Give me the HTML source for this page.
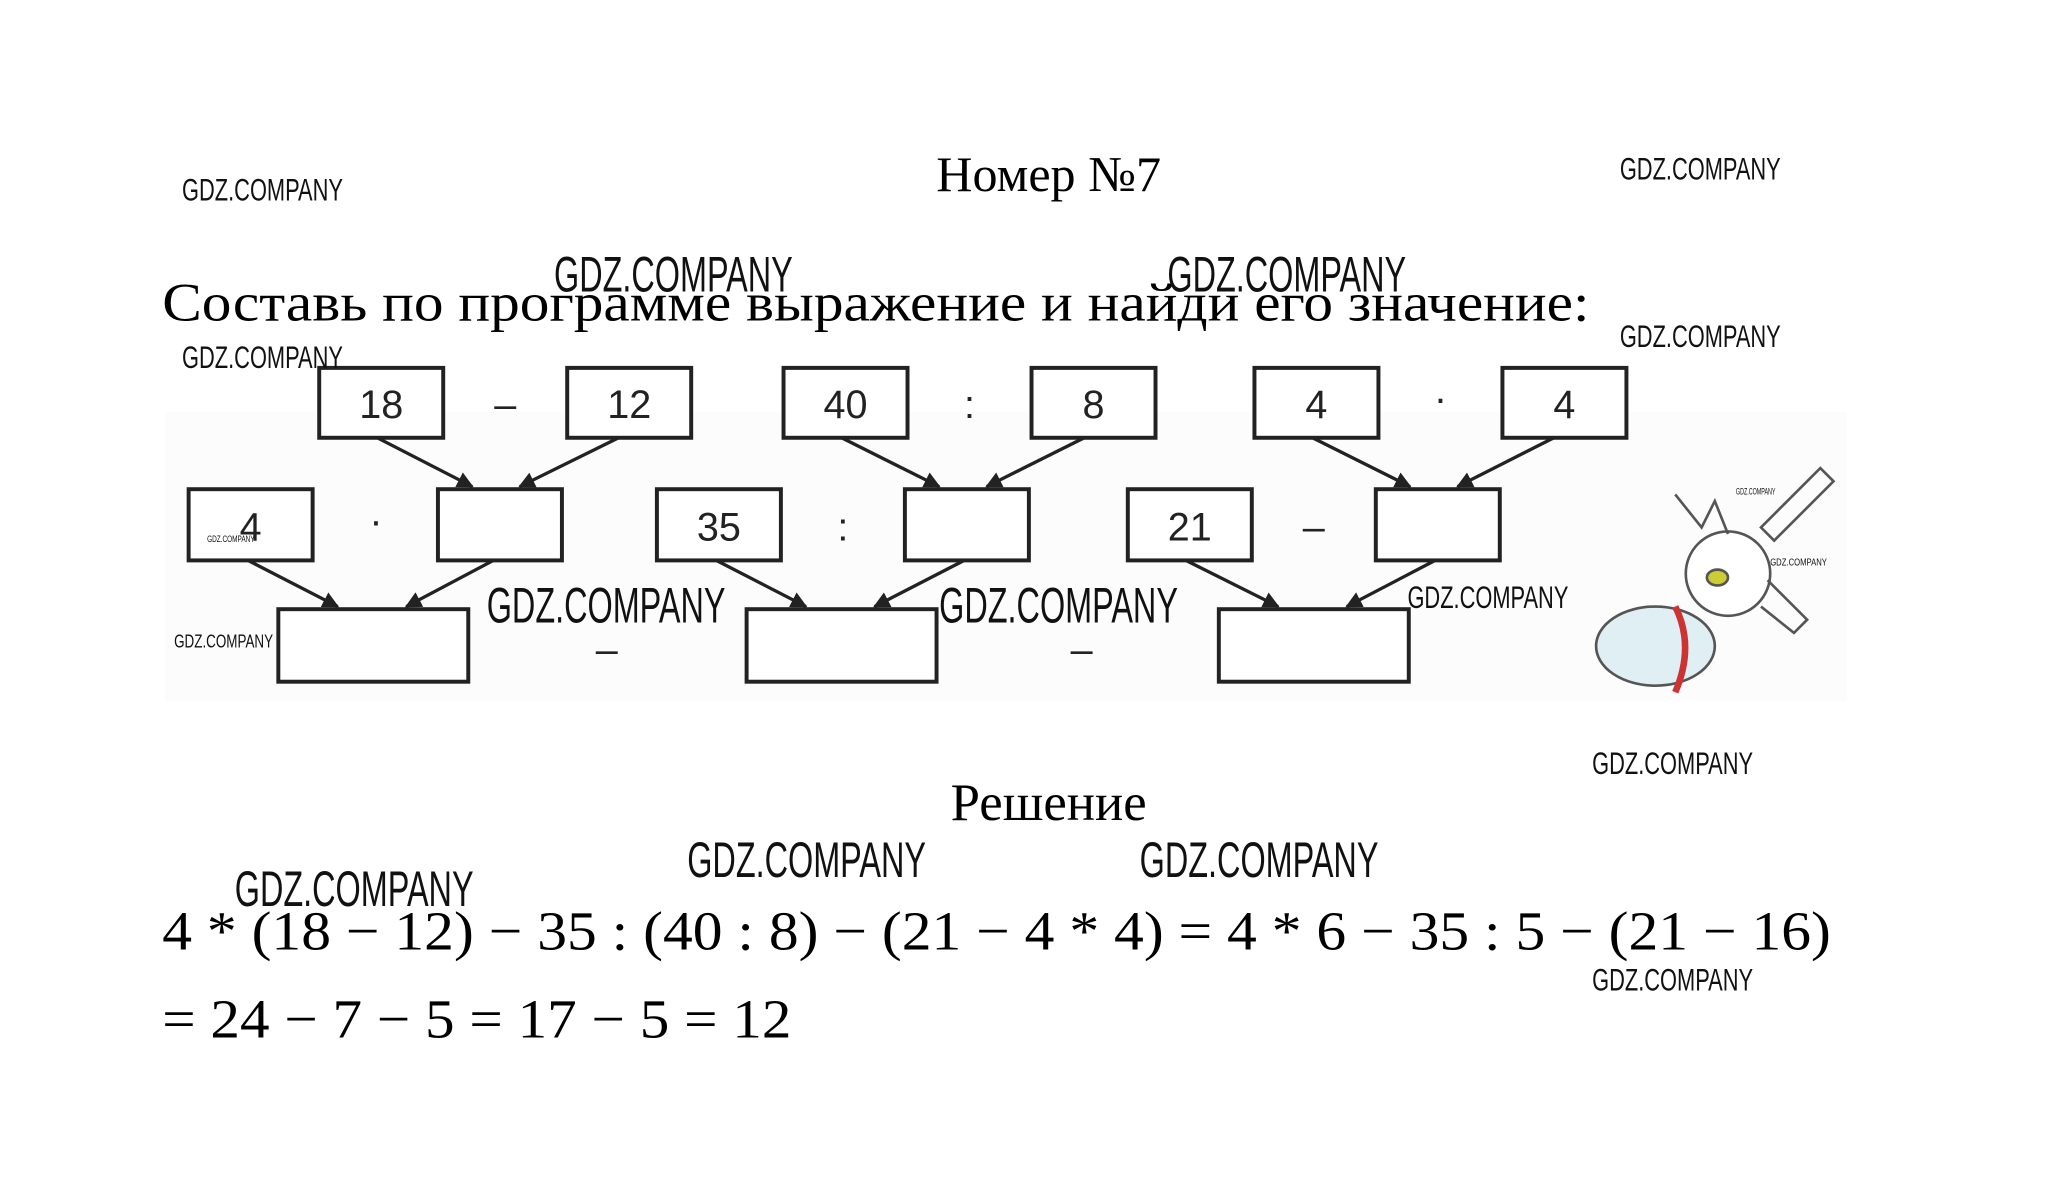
<!DOCTYPE html>
<html><head><meta charset="utf-8"><style>
html,body{margin:0;padding:0;background:#fff;}
svg{display:block}
.s{font-family:"Liberation Serif",serif;fill:#000}
.n{font-family:"Liberation Sans",sans-serif;fill:#222;font-size:30px}
.w{font-family:"Liberation Sans",sans-serif;fill:#111}
.b{fill:#fff;stroke:#222;stroke-width:3}
.a{stroke:#222;stroke-width:2.5}
</style></head><body>
<svg width="2067" height="1192" viewBox="0 0 1567 904" preserveAspectRatio="none" xmlns="http://www.w3.org/2000/svg">
<defs><marker id="m" viewBox="0 0 10 10" refX="9" refY="5" markerWidth="5" markerHeight="5" orient="auto"><path d="M0,0L10,5L0,10z" fill="#222"/></marker></defs>
<rect x="125" y="312" width="1275" height="220" fill="#fcfcfc"/>
<text class="s" x="795" y="145" font-size="38" text-anchor="middle">Номер №7</text>
<text class="s" x="123" y="243" font-size="41" textLength="1082" lengthAdjust="spacingAndGlyphs">Составь по программе выражение и найди его значение:</text>
<g class="b">
<rect x="242" y="279" width="94" height="53"/><rect x="430" y="279" width="94" height="53"/>
<rect x="594" y="279" width="94" height="53"/><rect x="782" y="279" width="94" height="53"/>
<rect x="951" y="279" width="94" height="53"/><rect x="1139" y="279" width="94" height="53"/>
<rect x="143" y="371" width="94" height="54"/><rect x="332" y="371" width="94" height="54"/>
<rect x="498" y="371" width="94" height="54"/><rect x="686" y="371" width="94" height="54"/>
<rect x="855" y="371" width="94" height="54"/><rect x="1043" y="371" width="94" height="54"/>
<rect x="211" y="462" width="144" height="55"/><rect x="566" y="462" width="144" height="55"/>
<rect x="924" y="462" width="144" height="55"/>
</g>
<g class="n" text-anchor="middle">
<text x="289" y="317">18</text><text x="477" y="317">12</text><text x="641" y="317">40</text><text x="829" y="317">8</text>
<text x="998" y="317">4</text><text x="1186" y="317">4</text>
<text x="190" y="410">4</text><text x="545" y="410">35</text><text x="902" y="410">21</text>
<text x="383" y="317">–</text><text x="735" y="317">:</text><text x="1092" y="312">·</text>
<text x="285" y="405">·</text><text x="639" y="410">:</text><text x="996" y="410">–</text>
<text x="460" y="503">–</text><text x="820" y="503">–</text>
</g>
<g class="a" marker-end="url(#m)">
<line x1="286" y1="332" x2="358" y2="369"/><line x1="469" y1="332" x2="394" y2="369"/>
<line x1="638" y1="332" x2="712" y2="369"/><line x1="822" y1="332" x2="748" y2="369"/>
<line x1="995" y1="332" x2="1069" y2="369"/><line x1="1178" y1="332" x2="1105" y2="369"/>
<line x1="188" y1="425" x2="256" y2="460"/><line x1="374" y1="425" x2="308" y2="460"/>
<line x1="543" y1="425" x2="611" y2="460"/><line x1="731" y1="425" x2="663" y2="460"/>
<line x1="899" y1="425" x2="969" y2="460"/><line x1="1088" y1="425" x2="1021" y2="460"/>
</g>
<g fill="none" stroke="#555" stroke-width="2">
<ellipse cx="1255" cy="490" rx="45" ry="30" fill="#dfeff3"/>
<path d="M1270 460 Q1285 490 1270 525" stroke="#c33" stroke-width="5"/>
<circle cx="1310" cy="435" r="32" fill="#fff"/>
<ellipse cx="1302" cy="438" rx="8" ry="6" fill="#cc3"/>
<path d="M1270 375 L1290 400 L1300 380 L1310 405"/>
<path d="M1335 400 L1380 355 L1390 365 L1345 410z"/>
<path d="M1340 440 L1370 470 L1360 480 L1335 460"/>
</g>
<text class="s" x="795" y="622" font-size="40" text-anchor="middle">Решение</text>
<text class="s" x="123" y="720" font-size="42" textLength="1265" lengthAdjust="spacingAndGlyphs">4 * (18 − 12) − 35 : (40 : 8) − (21 − 4 * 4) = 4 * 6 − 35 : 5 − (21 − 16)</text>
<text class="s" x="123" y="787" font-size="42" textLength="477" lengthAdjust="spacingAndGlyphs">= 24 − 7 − 5 = 17 − 5 = 12</text>
<g class="w">
<text x="138" y="152" font-size="24" textLength="122" lengthAdjust="spacingAndGlyphs">GDZ.COMPANY</text>
<text x="1228" y="136" font-size="24" textLength="122" lengthAdjust="spacingAndGlyphs">GDZ.COMPANY</text>
<text x="1228" y="263" font-size="24" textLength="122" lengthAdjust="spacingAndGlyphs">GDZ.COMPANY</text>
<text x="138" y="279" font-size="24" textLength="122" lengthAdjust="spacingAndGlyphs">GDZ.COMPANY</text>
<text x="420" y="221" font-size="38" textLength="181" lengthAdjust="spacingAndGlyphs">GDZ.COMPANY</text>
<text x="885" y="221" font-size="38" textLength="181" lengthAdjust="spacingAndGlyphs">GDZ.COMPANY</text>
<text x="369" y="472" font-size="38" textLength="181" lengthAdjust="spacingAndGlyphs">GDZ.COMPANY</text>
<text x="712" y="472" font-size="38" textLength="181" lengthAdjust="spacingAndGlyphs">GDZ.COMPANY</text>
<text x="1067" y="461" font-size="24" textLength="122" lengthAdjust="spacingAndGlyphs">GDZ.COMPANY</text>
<text x="132" y="491" font-size="14" textLength="75" lengthAdjust="spacingAndGlyphs">GDZ.COMPANY</text>
<text x="157" y="411" font-size="7" textLength="36" lengthAdjust="spacingAndGlyphs">GDZ.COMPANY</text>
<text x="1316" y="375" font-size="7" textLength="30" lengthAdjust="spacingAndGlyphs">GDZ.COMPANY</text>
<text x="1342" y="429" font-size="8" textLength="43" lengthAdjust="spacingAndGlyphs">GDZ.COMPANY</text>
<text x="1207" y="587" font-size="24" textLength="122" lengthAdjust="spacingAndGlyphs">GDZ.COMPANY</text>
<text x="521" y="665" font-size="38" textLength="181" lengthAdjust="spacingAndGlyphs">GDZ.COMPANY</text>
<text x="864" y="665" font-size="38" textLength="181" lengthAdjust="spacingAndGlyphs">GDZ.COMPANY</text>
<text x="178" y="687" font-size="38" textLength="181" lengthAdjust="spacingAndGlyphs">GDZ.COMPANY</text>
<text x="1207" y="751" font-size="24" textLength="122" lengthAdjust="spacingAndGlyphs">GDZ.COMPANY</text>
</g>
</svg>
</body></html>
